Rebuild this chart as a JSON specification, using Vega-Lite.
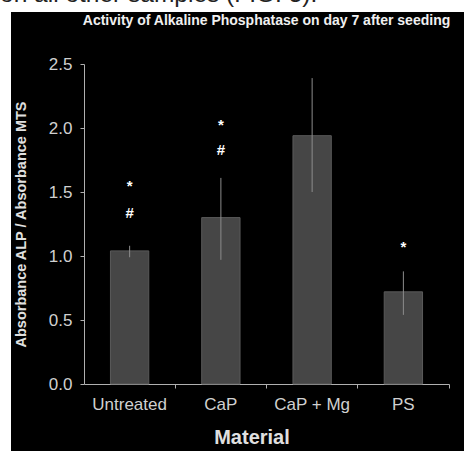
{
  "$schema": "https://vega.github.io/schema/vega-lite/v6.json",
  "autosize": {"type": "none"},
  "padding": {"left": 11, "top": 12, "right": 0, "bottom": 0},
  "width": 453,
  "height": 439,
  "background": "white",
  "config": {
    "font": "Liberation Sans",
    "view": {"fill": "black", "stroke": null}
  },
  "title": {
    "text": "on all other samples (FIG. 5).",
    "anchor": "start",
    "frame": "group",
    "dx": -11,
    "dy": 16,
    "offset": 2,
    "baseline": "alphabetic",
    "fontSize": 24.5,
    "fontWeight": "normal",
    "color": "#222222"
  },
  "datasets": {
    "bars": [
      {"Material": "Untreated", "value": 1.04, "lo": 0.99, "hi": 1.08},
      {"Material": "CaP", "value": 1.30, "lo": 0.97, "hi": 1.61},
      {"Material": "CaP + Mg", "value": 1.94, "lo": 1.50, "hi": 2.39},
      {"Material": "PS", "value": 0.72, "lo": 0.54, "hi": 0.88}
    ],
    "marks": [
      {"Material": "Untreated", "y": 1.547, "label": "*"},
      {"Material": "Untreated", "y": 1.336, "label": "#"},
      {"Material": "CaP", "y": 2.02, "label": "*"},
      {"Material": "CaP", "y": 1.83, "label": "#"},
      {"Material": "PS", "y": 1.07, "label": "*"}
    ]
  },
  "resolve": {"axis": {"x": "independent"}},
  "layer": [
    {
      "data": {"name": "bars"},
      "mark": {"type": "bar", "width": {"band": 0.42}, "fill": "#464646", "stroke": "#5a5a5a", "strokeWidth": 1},
      "encoding": {
        "x": {
          "field": "Material", "type": "nominal", "sort": null,
          "scale": {"range": [73, 438], "paddingInner": 0, "paddingOuter": 0},
          "axis": {
            "orient": "bottom", "offset": -67, "title": "Material",
            "labelAngle": 0, "labelFontSize": 17, "labelColor": "#d0d0d0", "labelPadding": 8,
            "bandPosition": 1, "tickSize": 4, "tickColor": "#b0b0b0", "domainColor": "#b0b0b0",
            "titleFontSize": 20, "titleFontWeight": "bold", "titleColor": "#e0e0e0",
            "titleX": 240.5, "titleY": 53, "titleBaseline": "middle", "titleAlign": "center", "grid": false
          }
        },
        "y": {
          "field": "value", "type": "quantitative",
          "scale": {"domain": [0, 2.5], "range": [372, 52], "nice": false, "zero": true},
          "axis": {
            "offset": -73, "values": [0, 0.5, 1, 1.5, 2, 2.5], "format": ".1f",
            "labelFontSize": 17, "labelColor": "#d0d0d0", "labelPadding": 8,
            "tickSize": 4, "tickColor": "#b0b0b0", "domainColor": "#b0b0b0", "grid": false,
            "title": "Absorbance ALP / Absorbance MTS",
            "titleFontSize": 14.5, "titleFontWeight": "bold", "titleColor": "#e0e0e0",
            "titleX": -56, "titleY": 212, "titleAngle": -90, "titleBaseline": "bottom", "titleAlign": "center"
          }
        }
      }
    },
    {
      "data": {"name": "bars"},
      "mark": {"type": "rule", "color": "#8c8c8c", "strokeWidth": 1},
      "encoding": {
        "x": {"field": "Material", "type": "nominal", "sort": null,
          "axis": {
            "orient": "top", "title": "Activity of Alkaline Phosphatase on day 7 after seeding",
            "labels": false, "ticks": false, "domain": false, "grid": false,
            "titleX": 255, "titleY": 8, "titleAlign": "center", "titleAnchor": "middle",
            "titleBaseline": "middle", "titleFontSize": 14, "titleFontWeight": "bold", "titleColor": "#f0f0f0"
          }
        },
        "y": {"field": "lo", "type": "quantitative"},
        "y2": {"field": "hi"}
      }
    },
    {
      "data": {"name": "marks"},
      "mark": {"type": "text", "color": "white", "fontSize": 15, "fontWeight": "bold", "baseline": "middle"},
      "encoding": {
        "x": {"field": "Material", "type": "nominal", "sort": null, "axis": null},
        "y": {"field": "y", "type": "quantitative"},
        "text": {"field": "label"}
      }
    }
  ]
}
